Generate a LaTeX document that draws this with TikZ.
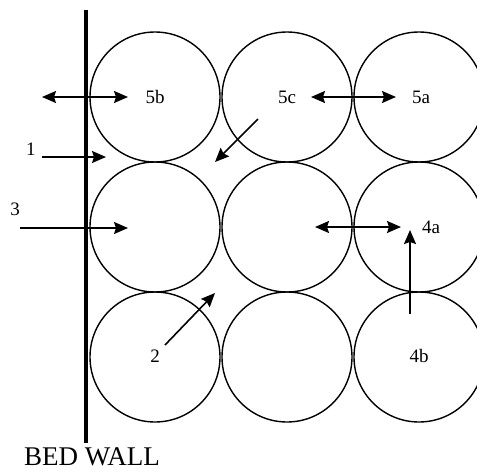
\documentclass[tikz,border=0pt]{standalone}
\usepackage{fontspec}
\setmainfont{Liberation Serif}
\usetikzlibrary{arrows.meta}
\tikzset{
  grain/.style={circle, draw, line width=1.4pt, minimum size=130pt, inner sep=0pt},
  flow/.style={line width=1.6pt},
  lbl/.style={inner sep=0pt}
}
\begin{document}
\begin{tikzpicture}[x=1pt, y=-1pt, >={Stealth[length=14pt, width=12pt, inset=2pt]}, font=\fontsize{19}{22}\selectfont]
    \useasboundingbox (0,0) rectangle (477,472);

    % Bed wall
    \coordinate (WT) at (86,10);
    \coordinate (WB) at (86,443);
    \draw[line width=4.5pt] (WT) -- (WB);
    \node[lbl, anchor=base west, font=\fontsize{27}{30}\selectfont] (bw) at (24,465) {BED WALL};

    % Grains, 3 x 3
    \foreach \col/\cx in {1/155, 2/287, 3/419}
      \foreach \row/\cy in {1/97, 2/227, 3/357}
        \node[grain] (g\row\col) at (\cx,\cy) {};

    % Labels
    \node[lbl] (t5b) at (155,97) {5b};
    \node[lbl] (t5c) at (287,97) {5c};
    \node[lbl] (t5a) at (421,97) {5a};
    \node[lbl] (t1) at (31,149) {1};
    \node[lbl] (t3) at (15,209) {3};
    \node[lbl] (t4a) at (431,227) {4a};
    \node[lbl] (t2) at (155,356) {2};
    \node[lbl] (t4b) at (419,356) {4b};

    % Arrow end points
    \coordinate (A5bl) at (42,97);   \coordinate (A5br) at (128,97);
    \coordinate (A5cl) at (311,97);  \coordinate (A5cr) at (396,97);
    \coordinate (A1s) at (42,157);   \coordinate (A1e) at (106,157);
    \coordinate (A3s) at (20,228);   \coordinate (A3e) at (128,228);
    \coordinate (A4al) at (315,227); \coordinate (A4ar) at (401,227);
    \coordinate (A4bs) at (410,314); \coordinate (A4be) at (410,230);
    \coordinate (Ads) at (258,119);  \coordinate (Ade) at (215,162);
    \coordinate (A2s) at (165,345);  \coordinate (A2e) at (215,293);

    % Arrows
    \draw[flow, <->] (A5bl) -- (A5br);
    \draw[flow, <->] (A5cl) -- (A5cr);
    \draw[flow, ->] (A1s) -- (A1e);
    \draw[flow, ->] (A3s) -- (A3e);
    \draw[flow, <->] (A4al) -- (A4ar);
    \draw[flow, ->] (A4bs) -- (A4be);
    \draw[flow, ->] (Ads) -- (Ade);
    \draw[flow, ->] (A2s) -- (A2e);
\end{tikzpicture}
\end{document}
